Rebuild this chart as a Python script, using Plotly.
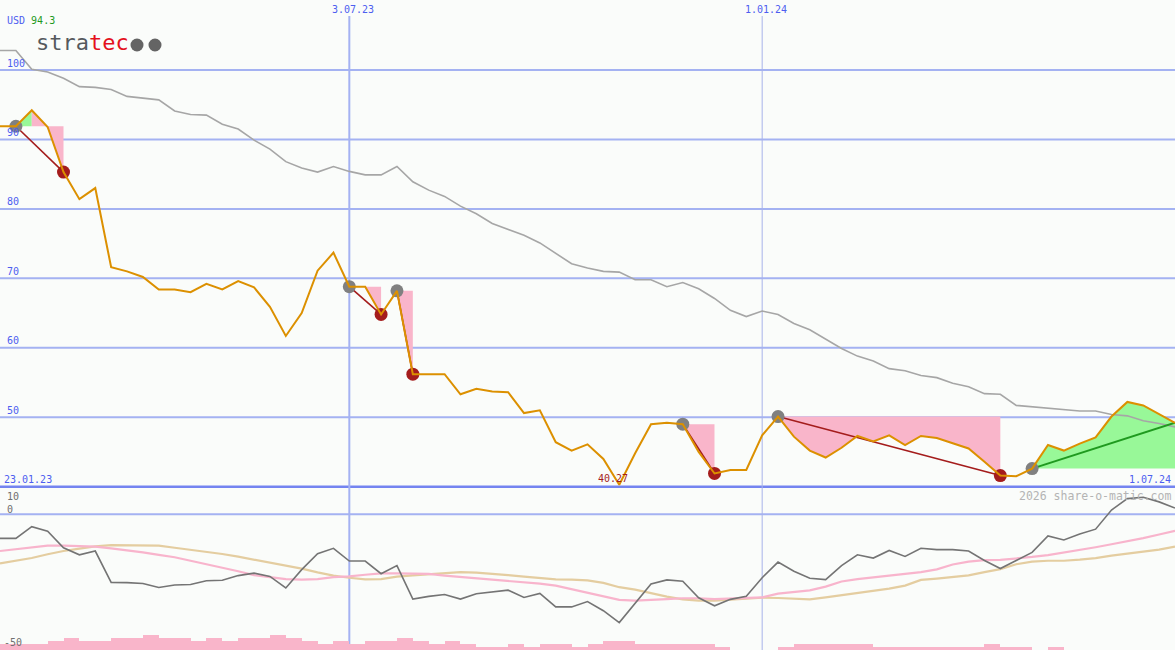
import numpy as np
import pandas as pd
import plotly.graph_objects as go

# ---------------- data ----------------
dates = pd.date_range("2023-01-30", periods=75, freq="7D")

price = [91.9, 91.9, 94.2, 91.8, 85.3, 81.4, 83.0, 71.6, 71.0, 70.2,
         68.4, 68.4, 68.0, 69.2, 68.4, 69.6, 68.7, 65.9, 61.7, 65.0,
         71.1, 73.7, 68.8, 68.8, 64.8, 68.2, 56.2, 56.2, 56.2, 53.3,
         54.1, 53.7, 53.6, 50.6, 51.0, 46.4, 45.2, 46.1, 44.0, 40.27,
         44.8, 49.0, 49.2, 49.0, 45.0, 41.9, 42.4, 42.4, 47.4, 50.1,
         47.2, 45.2, 44.2, 45.6, 47.3, 46.5, 47.4, 46.0, 47.3, 47.0,
         46.2, 45.5, 43.6, 41.6, 41.5, 42.6, 46.0, 45.2, 46.2, 47.1,
         50.1, 52.2, 51.7, 50.5, 49.2]

ma_long = [102.8, 102.8, 100.1, 99.7, 98.8, 97.6, 97.5, 97.2, 96.2, 95.9,
           95.7, 94.1, 93.6, 93.5, 92.2, 91.5, 89.9, 88.6, 86.8, 85.9,
           85.3, 86.1, 85.4, 84.9, 84.9, 86.1, 83.9, 82.7, 81.8, 80.4,
           79.3, 77.9, 77.1, 76.2, 75.1, 73.6, 72.1, 71.5, 71.0, 70.9,
           69.8, 69.8, 68.8, 69.4, 68.5, 67.1, 65.4, 64.5, 65.3, 64.8,
           63.5, 62.6, 61.3, 59.9, 58.8, 58.1, 57.0, 56.7, 56.0, 55.7,
           54.9, 54.4, 53.4, 53.3, 51.7, 51.5, 51.3, 51.1, 50.9, 50.9,
           50.4, 50.2, 49.5, 49.1, 48.6]

osc = [-8.9, -8.9, -4.6, -6.3, -12.4, -15.0, -13.6, -25.2, -25.3, -25.6,
       -27.1, -26.2, -26.0, -24.6, -24.4, -22.7, -21.8, -23.0, -27.3, -20.5,
       -14.6, -12.6, -17.3, -17.3, -22.0, -19.0, -31.4, -30.4, -29.7, -31.4,
       -29.4, -28.7, -28.1, -30.8, -29.3, -34.3, -34.3, -32.3, -35.7, -40.1,
       -32.8, -25.8, -24.3, -24.8, -30.9, -33.9, -31.5, -30.4, -23.5, -17.7,
       -21.1, -23.7, -24.2, -19.0, -15.0, -16.2, -13.4, -15.6, -12.6, -13.1,
       -13.1, -13.6, -17.1, -20.1, -17.1, -14.1, -8.0, -9.5, -7.3, -5.5,
       1.6, 5.8, 6.3, 4.6, 2.3]

osc_fast = [-13.6, -13.0, -12.2, -11.6, -11.6, -11.7, -12.0, -12.6, -13.3, -14.1,
            -15.0, -15.9, -17.2, -18.4, -19.8, -21.1, -22.5, -23.3, -24.0, -24.2,
            -24.0, -23.3, -23.0, -22.4, -21.9, -21.9, -21.9, -22.1, -22.7, -23.2,
            -23.7, -24.1, -24.6, -25.1, -25.7, -26.4, -27.7, -28.9, -30.3, -31.7,
            -32.0, -31.6, -31.4, -31.1, -31.1, -31.4, -31.2, -31.1, -30.8, -29.4,
            -28.7, -28.2, -26.8, -24.9, -24.0, -23.3, -22.7, -22.0, -21.4, -20.4,
            -18.6, -17.5, -17.0, -16.9, -16.4, -15.8, -15.1, -14.2, -13.2, -12.2,
            -11.1, -10.0, -8.8, -7.5, -6.1]

osc_slow = [-18.2, -17.3, -16.2, -14.8, -13.6, -12.7, -11.9, -11.4, -11.4, -11.5,
            -11.6, -12.4, -13.1, -13.8, -14.7, -15.7, -16.8, -17.9, -19.0, -20.1,
            -21.5, -22.7, -23.5, -24.1, -24.0, -23.1, -22.6, -22.2, -21.7, -21.4,
            -21.6, -22.0, -22.5, -23.1, -23.6, -24.1, -24.2, -24.5, -25.4, -27.0,
            -27.9, -29.3, -30.5, -31.5, -32.0, -32.0, -31.7, -31.4, -30.9, -31.0,
            -31.2, -31.5, -30.8, -30.0, -29.0, -28.2, -27.5, -26.4, -24.3, -23.8,
            -23.1, -22.6, -21.4, -20.3, -18.5, -17.5, -17.2, -17.2, -16.8, -16.2,
            -15.3, -14.6, -13.8, -13.1, -12.0]

volume = [2, 2, 2, 3, 4, 3, 3, 4, 4, 5,
          4, 4, 3, 4, 3, 4, 4, 5, 4, 3,
          2, 3, 2, 3, 3, 4, 3, 2, 3, 2,
          1, 1, 2, 1, 2, 2, 1, 2, 3, 3,
          2, 2, 2, 2, 2, 1, 0, 0, 0, 1,
          2, 2, 2, 2, 2, 1, 1, 1, 1, 1,
          1, 1, 2, 1, 1, 0, 1, 0, 0, 0,
          0, 0, 0, 0]

buy_dates = ["2023-02-06", "2023-07-03", "2023-07-24", "2023-11-27", "2024-01-08", "2024-04-29"]
sell_dates = ["2023-02-27", "2023-07-17", "2023-07-31", "2023-12-11", "2024-04-15", None]

price_grid = [50, 60, 70, 80, 90, 100]
price_floor = 40
month_marks = ["2023-07-03", "2024-01-01"]
month_labels = ["3.07.23", "1.01.24"]
start_label = "23.01.23"
end_label = "1.07.24"
min_label = "40.27"
currency = "USD"
quote = "94.3"
osc_labels = ["10", "0", "-50"]

# ---------------- styling ----------------
W, H = 1175, 650
BG = "#fafcfa"
GRID = "#a4b2f2"
FLOOR = "#7484f0"
BLUE_TXT = "#4d5ef0"
ORANGE = "#dc9000"
GREY_MA = "#a6a6a6"
DARKRED = "#a41c1c"
GREEN = "#1f9a1f"
PINK_FILL = "#f9b5ca"
GREEN_FILL = "#98f898"
MONO = "DejaVu Sans Mono"


def px(x):
    return x / W


def py(y):
    return 1 - y / H


fig = go.Figure()

# volume bars (bottom)
bar_x = dates[:-1] + pd.Timedelta(hours=84)
fig.add_trace(go.Bar(x=bar_x, y=volume, yaxis="y3", marker=dict(color="#f9b5ca", line=dict(width=0)),
                     width=7 * 86400000, hoverinfo="skip"))

# trade fills
price_arr = np.array(price)


def loc(d):
    return dates.get_loc(pd.Timestamp(d))


trades = []
for b, s in zip(buy_dates, sell_dates):
    a = loc(b)
    e = len(price) - 1 if s is None else loc(s)
    trades.append((a, e, s is None))
    entry = price[a]
    if s is None:
        segs = [(a, e, GREEN_FILL)]
    else:
        m = a + int(np.argmax(price_arr[a:e + 1]))
        segs = []
        if m > a:
            segs.append((a, m, GREEN_FILL))
        segs.append((m, e, PINK_FILL))
    for p, q, col in segs:
        xs = list(dates[p:q + 1]) + list(dates[p:q + 1])[::-1]
        ys = price[p:q + 1] + [entry] * (q - p + 1)
        fig.add_trace(go.Scatter(x=xs, y=ys, mode="lines", fill="toself", fillcolor=col,
                                 line=dict(width=0, color="rgba(0,0,0,0)"), hoverinfo="skip"))

# long moving average
fig.add_trace(go.Scatter(x=dates, y=ma_long, mode="lines", line=dict(color=GREY_MA, width=1.6),
                         hoverinfo="skip"))

# trade lines
for a, e, is_open in trades:
    fig.add_trace(go.Scatter(x=[dates[a], dates[e]], y=[price[a], price[e]], mode="lines",
                             line=dict(color=GREEN if is_open else DARKRED, width=2 if is_open else 1.6),
                             hoverinfo="skip"))

# signal dots
buy_idx = [t[0] for t in trades]
sell_idx = [t[1] for t in trades if not t[2]]
fig.add_trace(go.Scatter(x=[dates[i] for i in buy_idx], y=[price[i] for i in buy_idx], mode="markers",
                         marker=dict(color="#808080", size=13, line=dict(width=0)), hoverinfo="skip"))
fig.add_trace(go.Scatter(x=[dates[i] for i in sell_idx], y=[price[i] for i in sell_idx], mode="markers",
                         marker=dict(color=DARKRED, size=13, line=dict(width=0)), hoverinfo="skip"))

# price line
fig.add_trace(go.Scatter(x=dates, y=price, mode="lines", line=dict(color=ORANGE, width=2),
                         hoverinfo="skip"))

# oscillator panel
fig.add_trace(go.Scatter(x=dates, y=osc_slow, yaxis="y2", mode="lines",
                         line=dict(color="#e4cda0", width=2.2), hoverinfo="skip"))
fig.add_trace(go.Scatter(x=dates, y=osc_fast, yaxis="y2", mode="lines",
                         line=dict(color="#f8b4cc", width=2.2), hoverinfo="skip"))
fig.add_trace(go.Scatter(x=dates, y=osc, yaxis="y2", mode="lines",
                         line=dict(color="#747474", width=1.6), hoverinfo="skip"))

# ---------------- shapes ----------------
shapes = []
for v in price_grid:
    shapes.append(dict(type="line", xref="paper", x0=0, x1=1, yref="y", y0=v, y1=v,
                       line=dict(color=GRID, width=2), layer="below"))
shapes.append(dict(type="line", xref="paper", x0=0, x1=1, yref="y", y0=price_floor, y1=price_floor,
                   line=dict(color=FLOOR, width=2.5), layer="below"))
shapes.append(dict(type="line", xref="paper", x0=0, x1=1, yref="y2", y0=0, y1=0,
                   line=dict(color=GRID, width=2), layer="below"))
for k, d in enumerate(month_marks):
    shapes.append(dict(type="line", xref="x", x0=d, x1=d, yref="paper", y0=0, y1=py(16),
                       line=dict(color=GRID if k == 0 else "#a8b2ea", width=2 if k == 0 else 1),
                       layer="below"))
# logo dots
for cx in (137, 155):
    shapes.append(dict(type="circle", xref="paper", yref="paper",
                       x0=px(cx - 6.5), x1=px(cx + 6.5), y0=py(51.5), y1=py(38.5),
                       fillcolor="#646464", line=dict(width=0)))

# ---------------- annotations ----------------
ann = []
for v in price_grid:
    ann.append(dict(x=px(5), xref="paper", xanchor="left", y=v, yref="y", yanchor="middle", yshift=7,
                    text=str(v), showarrow=False, font=dict(family=MONO, size=10, color=BLUE_TXT)))
for d, lab in zip(month_marks, month_labels):
    ann.append(dict(x=d, xref="x", xanchor="center", xshift=4, y=py(10), yref="paper", yanchor="middle",
                    text=lab, showarrow=False, font=dict(family=MONO, size=10, color=BLUE_TXT)))
ann.append(dict(x=px(2), xref="paper", xanchor="left", y=py(479), yref="paper", yanchor="middle",
                text=start_label, showarrow=False, font=dict(family=MONO, size=10, color=BLUE_TXT)))
ann.append(dict(x=px(1173), xref="paper", xanchor="right", y=py(479), yref="paper", yanchor="middle",
                text=end_label, showarrow=False, font=dict(family=MONO, size=10, color=BLUE_TXT)))
ann.append(dict(x=px(5), xref="paper", xanchor="left", y=py(20), yref="paper", yanchor="middle",
                text=f"{currency} <span style='color:#1f9a1f'>{quote}</span>", showarrow=False,
                font=dict(family=MONO, size=10, color=BLUE_TXT)))
ann.append(dict(x=px(34), xref="paper", xanchor="left", y=py(43), yref="paper", yanchor="middle",
                text="<span style='color:#55595d'>stra</span><span style='color:#e4101c'>tec</span>",
                showarrow=False, font=dict(family=MONO, size=22, color="#55595d")))
imin = int(np.argmin(price_arr))
ann.append(dict(x=dates[imin], xref="x", xanchor="center", xshift=-6, y=price[imin], yref="y",
                yanchor="middle", yshift=6, text=min_label, showarrow=False,
                font=dict(family=MONO, size=10, color=DARKRED)))
for lab, yy, xx in zip(osc_labels, [496, 509, 642], [5, 5, 2]):
    ann.append(dict(x=px(xx), xref="paper", xanchor="left", y=py(yy), yref="paper", yanchor="middle",
                    text=lab, showarrow=False, font=dict(family=MONO, size=10, color="#707070")))
ann.append(dict(x=px(1173), xref="paper", xanchor="right", y=py(496), yref="paper", yanchor="middle",
                text="2026 share-o-matic.com", showarrow=False,
                font=dict(family=MONO, size=11.5, color="#b4b4b4")))

# ---------------- layout ----------------
fig.update_layout(
    width=W, height=H, autosize=False,
    margin=dict(l=0, r=0, t=0, b=0, pad=0),
    paper_bgcolor=BG, plot_bgcolor=BG,
    showlegend=False, bargap=0,
    xaxis=dict(range=["2023-01-30", "2024-07-01"], visible=False, showgrid=False, zeroline=False,
               fixedrange=True, domain=[0, 1]),
    yaxis=dict(range=[16.48, 110.08], visible=False, showgrid=False, zeroline=False, fixedrange=True,
               domain=[0, 1]),
    yaxis2=dict(range=[-50.26, 190.48], visible=False, showgrid=False, zeroline=False, fixedrange=True,
                overlaying="y", domain=[0, 1]),
    yaxis3=dict(range=[0, 216.67], visible=False, showgrid=False, zeroline=False, fixedrange=True,
                overlaying="y", domain=[0, 1]),
    shapes=shapes,
    annotations=ann,
)

fig.write_html("out.html", include_plotlyjs=True, full_html=True,
               config={"displayModeBar": False, "staticPlot": True},
               post_script="document.body.style.margin='0';document.body.style.overflow='hidden';")
